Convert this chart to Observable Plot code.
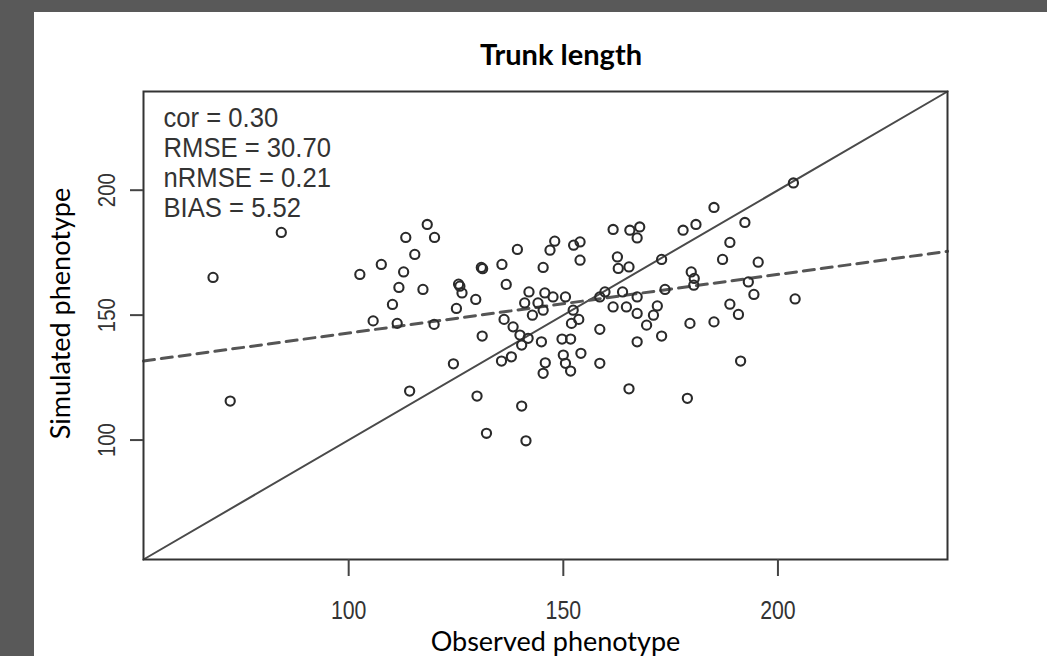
<!DOCTYPE html>
<html><head><meta charset="utf-8">
<script src="https://cdn.jsdelivr.net/npm/d3@7"></script>
<script src="https://cdn.jsdelivr.net/npm/@observablehq/plot@0.6"></script>
<style>
html,body{margin:0;padding:0;background:#595959;width:1047px;height:656px;overflow:hidden;}
#panel{position:absolute;left:34px;top:12px;width:1013px;height:644px;background:#fff;}
#title{position:absolute;top:24px;left:227px;width:600px;text-align:center;line-height:36px;font-family:Lato,"Open Sans",sans-serif;font-weight:bold;font-size:29px;color:#000;}
#chart{position:absolute;left:0;top:60px;}
</style></head><body>
<div id="panel"><div id="title">Trunk length</div><div id="chart"></div></div>
<script>
const observed = [68.4,72.4,84.3,102.6,107.6,113.3,118.3,120.0,115.4,112.8,
111.7,117.3,110.2,105.7,111.3,119.9,114.2,125.1,125.6,125.9,
126.4,129.6,130.9,131.2,135.7,139.3,136.7,124.4,131.1,129.9,
132.1,140.3,141.3,136.2,138.3,139.9,140.3,141.8,144.9,135.6,
137.9,145.8,145.3,150.0,150.5,151.7,149.7,151.7,154.1,158.5,
158.5,153.6,151.9,152.3,150.5,145.3,146.9,148.0,152.4,153.9,
153.9,142.0,145.7,147.6,141.0,144.1,142.8,145.3,161.6,165.5,
167.8,167.2,162.6,162.8,165.3,161.6,164.7,163.8,158.5,159.7,
167.2,167.2,169.4,171.0,171.9,167.2,172.9,165.3,172.9,173.7,
177.9,180.9,179.8,180.5,180.4,179.5,178.9,203.6,185.1,192.3,
188.8,187.1,195.4,193.1,194.4,185.1,188.8,190.8,204.0,191.3];
const simulated = [165.1,115.6,183.1,166.3,170.3,181.1,186.3,181.1,174.3,167.3,
161.1,160.3,154.3,147.7,146.7,146.3,119.6,152.7,162.4,161.6,
158.9,156.3,169.1,168.6,170.3,176.3,162.3,130.5,141.6,117.6,
102.7,113.6,99.7,148.3,145.3,142.0,138.0,140.7,139.3,131.6,
133.3,130.9,126.7,134.0,130.7,127.6,140.4,140.4,134.7,144.3,
130.7,148.3,146.7,152.0,157.3,169.1,176.0,179.6,178.0,179.3,
172.0,159.3,158.9,157.3,154.9,154.9,150.0,152.0,184.3,184.0,
185.3,180.9,173.3,168.7,169.3,153.3,153.3,159.3,157.3,159.3,
157.3,150.7,146.0,150.0,153.7,139.3,141.6,120.5,172.3,160.3,
184.0,186.3,167.3,164.7,162.0,146.7,116.7,202.9,193.1,187.1,
179.1,172.3,171.2,163.3,158.3,147.3,154.4,150.3,156.5,131.6];
const axisDomain = [52.2, 239.5];
const xTicks = [100, 150, 200];
const yTicks = [100, 150, 200];
const statLabels = ["cor = 0.30", "RMSE = 30.70", "nRMSE = 0.21", "BIAS = 5.52"];
const fitIntercept = 119.4;
const fitSlope = 0.2344;
const xTitle = "Observed phenotype";
const yTitle = "Simulated phenotype";

const idx = observed.map((_, i) => i);
const rFont = "'Liberation Sans', Arial, sans-serif";

const chart = Plot.plot({
  width: 1013, height: 584,
  marginLeft: 109, marginRight: 100, marginTop: 19, marginBottom: 97,
  x: {domain: axisDomain},
  y: {domain: axisDomain},
  style: {background: "transparent", color: "#333"},
  marks: [
    Plot.line(axisDomain, {x: d => d, y: d => d, stroke: "#4a4a4a", strokeWidth: 2}),
    Plot.line(axisDomain, {x: d => d, y: d => fitIntercept + fitSlope * d, stroke: "#555", strokeWidth: 3, strokeDasharray: "11,7"}),
    Plot.dot(idx, {x: i => observed[i], y: i => simulated[i], r: 4.6, stroke: "#2a2a2a", strokeWidth: 2.1, fill: "none"}),
    Plot.frame({stroke: "#333", strokeWidth: 2}),
    Plot.axisX({ticks: xTicks, tickSize: 17, tickPadding: 24, fontSize: 26, fontFamily: rFont, stroke: "#444", strokeWidth: 2, fill: "#333", label: null}),
    Plot.axisY({ticks: yTicks, tickSize: 13, tickPadding: 16, tickRotate: -90, fontSize: 24, fontFamily: rFont, stroke: "#444", strokeWidth: 2, fill: "#333", label: null}),
    Plot.text([statLabels.join("\n")], {frameAnchor: "top-left", dx: 20, dy: 14, lineAnchor: "top", lineHeight: 1.11, fontSize: 27, fontFamily: rFont, fill: "#333", textAnchor: "start"}),
    Plot.text([xTitle], {frameAnchor: "bottom", dx: 10, dy: 91, lineAnchor: "bottom", fontSize: 27, fontFamily: "Lato, 'Open Sans', sans-serif", fill: "#000"}),
    Plot.text([yTitle], {frameAnchor: "left", dx: -82, dy: -12, rotate: -90, textAnchor: "middle", lineAnchor: "middle", fontSize: 27, fontFamily: "Lato, 'Open Sans', sans-serif", fill: "#000"})
  ]
});
document.getElementById("chart").appendChild(chart);
const svg = d3.select(chart);
function squeeze(sel, s) {
  sel.each(function () {
    const t = this.getAttribute("transform") || "";
    this.setAttribute("transform", t + ` scale(${s},1)`);
  });
}
squeeze(svg.selectAll('g[aria-label="x-axis tick label"] text'), 0.82);
squeeze(svg.selectAll('g[aria-label="y-axis tick label"] text'), 0.85);
squeeze(svg.selectAll('g[aria-label="text"] text').filter(function () { return this.textContent.includes("="); }), 0.95);
</script>
</body></html>
